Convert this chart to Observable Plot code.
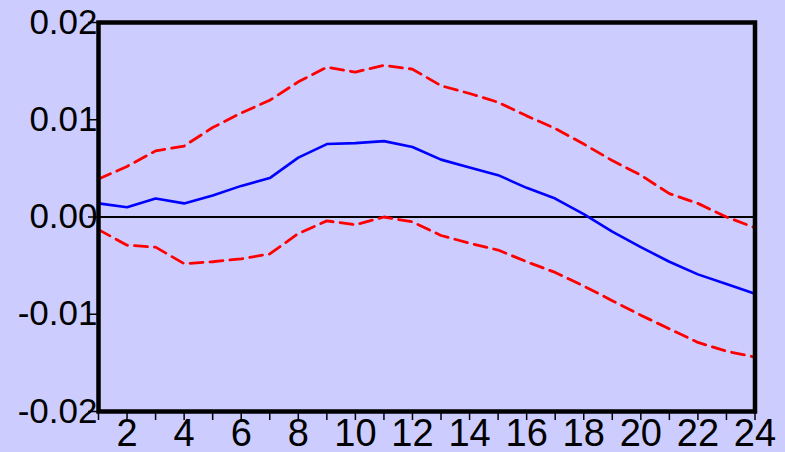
<!DOCTYPE html>
<html>
<head>
<meta charset="utf-8">
<script src="https://cdn.jsdelivr.net/npm/d3@7"></script>
<script src="https://cdn.jsdelivr.net/npm/@observablehq/plot@0.6"></script>
<style>
  html, body { margin: 0; padding: 0; background: #ccccff; }
</style>
</head>
<body>
<div id="chart"></div>
<script>
const periods = [1,2,3,4,5,6,7,8,9,10,11,12,13,14,15,16,17,18,19,20,21,22,23,24];
const response = [0.0014,0.0010,0.0019,0.0014,0.0022,0.0032,0.0040,0.0061,0.0075,0.0076,0.0078,0.0072,0.0059,0.0051,0.0043,0.0030,0.0019,0.0003,-0.0015,-0.0031,-0.0046,-0.0059,-0.0069,-0.0079];
const upperBand = [0.0039,0.0052,0.0068,0.0073,0.0092,0.0107,0.0120,0.0139,0.0154,0.0149,0.0156,0.0152,0.0135,0.0127,0.0118,0.0104,0.0091,0.0075,0.0058,0.0043,0.0024,0.0014,0.0000,-0.0011];
const lowerBand = [-0.0013,-0.0029,-0.0031,-0.0048,-0.0046,-0.0043,-0.0038,-0.0017,-0.0004,-0.0008,0.0000,-0.0005,-0.0019,-0.0027,-0.0034,-0.0046,-0.0057,-0.0071,-0.0086,-0.0101,-0.0115,-0.0129,-0.0138,-0.0144];
const xTickLabels = [2,4,6,8,10,12,14,16,18,20,22,24];
const yTicks = [-0.02,-0.01,0,0.01,0.02];
const yTickLabels = ["-0.02","-0.01","0.00","0.01","0.02"];

const rows = periods.map((p, i) => ({p, mid: response[i], up: upperBand[i], lo: lowerBand[i]}));
const font = "Liberation Sans, Arial, sans-serif";

const chart = Plot.plot({
  width: 785,
  height: 452,
  marginLeft: 98,
  marginRight: 30.5,
  marginTop: 22,
  marginBottom: 41,
  style: {background: "#ccccff", fontFamily: font, fontSize: "35px", color: "black"},
  x: {domain: [1, 24], axis: null, label: null},
  y: {domain: [-0.02, 0.02], axis: null, label: null},
  marks: [
    Plot.ruleY([0], {stroke: "black", strokeWidth: 2}),
    Plot.line(rows, {x: "p", y: "up", stroke: "#ff0000", strokeWidth: 2.8, strokeDasharray: "13,7"}),
    Plot.line(rows, {x: "p", y: "lo", stroke: "#ff0000", strokeWidth: 2.8, strokeDasharray: "13,7"}),
    Plot.line(rows, {x: "p", y: "mid", stroke: "#0000ff", strokeWidth: 2.6}),
    Plot.axisX(periods, {tickSize: 9, text: null, label: null, stroke: "black", strokeWidth: 1.5}),
    Plot.axisX(xTickLabels, {tickSize: 0, tickPadding: 8, label: null, fontSize: 38, fill: "black"}),
    Plot.axisY(yTicks, {tickSize: 10, tickPadding: -9, label: null, strokeWidth: 1.5, fontSize: 35, fill: "black",
      tickFormat: d => yTickLabels[yTicks.indexOf(d)]}),
    Plot.frame({stroke: "black", strokeWidth: 4.5})
  ]
});
document.getElementById("chart").appendChild(chart);
</script>
</body>
</html>
